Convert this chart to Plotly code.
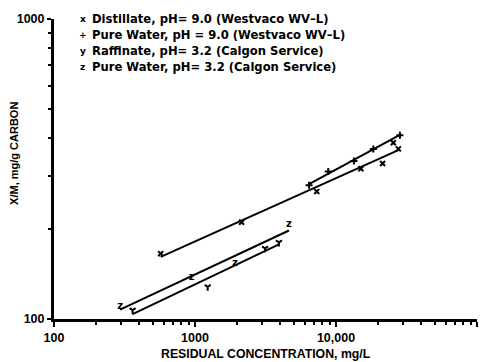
import numpy as np
import plotly.graph_objects as go

# Residual concentration (mg/L) vs. loading X/M (mg/g carbon)
dist_c = [571, 2140, 7300, 15000, 21400, 27700, 25500]
dist_q = [165, 210, 266, 317, 330, 369, 387]

pw9_c = [6440, 8810, 13400, 18400, 28400]
pw9_q = [279, 310, 336, 369, 410]

raff_c = [361, 1230, 3140, 3940]
raff_q = [107, 128, 172, 180]

pw32_c = [294, 948, 1920, 4640]
pw32_q = [110, 138, 153, 206]

series_labels = [
    "Distillate, pH= 9.0 (Westvaco WV\u2013L)",
    "Pure Water, pH = 9.0 (Westvaco WV\u2013L)",
    "Raffinate, pH= 3.2 (Calgon Service)",
    "Pure Water, pH= 3.2 (Calgon Service)",
]
series_glyphs = ["x", "+", "y", "z"]

x_tick_vals = [100, 1000, 10000, 100000]
x_tick_text = ["100", "1000", "10,000", "100,000"]
y_tick_vals = [100, 1000]
y_tick_text = ["100", "1000"]

BOLD = dict(family="Liberation Sans, Arial, sans-serif", color="black", weight="bold")
WIDE = dict(family="DejaVu Sans, sans-serif", color="black", weight="bold")


def freundlich_fit(c, q):
    """Least-squares line in log-log space, drawn across the data range."""
    lc, lq = np.log10(c), np.log10(q)
    slope, icpt = np.polyfit(lc, lq, 1)
    xs = np.array([min(c), max(c)], dtype=float)
    return xs, 10 ** (icpt + slope * np.log10(xs))


fig = go.Figure()

data = [(dist_c, dist_q), (pw9_c, pw9_q), (raff_c, raff_q), (pw32_c, pw32_q)]
for c, q in data:
    xs, ys = freundlich_fit(c, q)
    fig.add_trace(go.Scatter(x=xs, y=ys, mode="lines",
                             line=dict(color="black", width=2), hoverinfo="skip"))

marker_style = dict(color="black", size=5, line=dict(color="black", width=2))
fig.add_trace(go.Scatter(x=dist_c, y=dist_q, mode="markers",
                         marker=dict(symbol="x-thin", **marker_style)))
fig.add_trace(go.Scatter(x=pw9_c, y=pw9_q, mode="markers",
                         marker=dict(symbol="cross-thin", **marker_style)))
fig.add_trace(go.Scatter(x=raff_c, y=raff_q, mode="markers",
                         marker=dict(symbol="y-down", **marker_style)))
fig.add_trace(go.Scatter(x=pw32_c, y=pw32_q, mode="text",
                         text=["z"] * len(pw32_c), textposition="middle center",
                         textfont=dict(size=10, **WIDE)))

# key block in the upper left
for i, (glyph, label) in enumerate(zip(series_glyphs, series_labels)):
    ypos = 1.0 - i * 0.053
    fig.add_annotation(x=0.068, y=ypos, xref="paper", yref="paper", text=glyph,
                       showarrow=False, xanchor="center", yanchor="middle",
                       font=dict(size=9, **WIDE))
    fig.add_annotation(x=0.085, y=ypos, xref="paper", yref="paper", text=label,
                       showarrow=False, xanchor="left", yanchor="middle",
                       font=dict(size=11.6, **WIDE))

fig.add_annotation(x=0.5, y=-0.118, xref="paper", yref="paper",
                   text="RESIDUAL CONCENTRATION, mg/L", showarrow=False,
                   xanchor="center", yanchor="middle", font=dict(size=12.3, **BOLD))
fig.add_annotation(x=-0.095, y=0.553, xref="paper", yref="paper",
                   text="X/M, mg/g CARBON", showarrow=False, textangle=-90,
                   xanchor="center", yanchor="middle", font=dict(size=11, **BOLD))

x_minor = [m * 10 ** e for e in (2, 3, 4) for m in range(2, 10)]
y_minor = [m * 100 for m in range(2, 10)]

fig.update_xaxes(type="log", range=[2, 5], tickmode="array",
                 tickvals=x_tick_vals, ticktext=x_tick_text,
                 ticks="outside", ticklen=5, tickwidth=2, tickcolor="black",
                 showline=True, linecolor="black", linewidth=3,
                 showgrid=False, zeroline=False,
                 minor=dict(tickmode="array", tickvals=x_minor, ticks="outside",
                            ticklen=3, tickwidth=1.5, tickcolor="black", showgrid=False),
                 tickfont=dict(size=12.5, **BOLD))
fig.update_yaxes(type="log", range=[2, 3], tickmode="array",
                 tickvals=y_tick_vals, ticktext=y_tick_text,
                 ticks="outside", ticklen=4, tickwidth=2, tickcolor="black",
                 showline=True, linecolor="black", linewidth=3,
                 showgrid=False, zeroline=False,
                 minor=dict(tickmode="array", tickvals=y_minor, ticks="outside",
                            ticklen=3, tickwidth=1.5, tickcolor="black", showgrid=False),
                 tickfont=dict(size=12.5, **BOLD))

fig.update_layout(width=498, height=362,
                  margin=dict(l=54, r=21, t=15, b=43),
                  plot_bgcolor="white", paper_bgcolor="white",
                  showlegend=False)

fig.write_html("out.html")
